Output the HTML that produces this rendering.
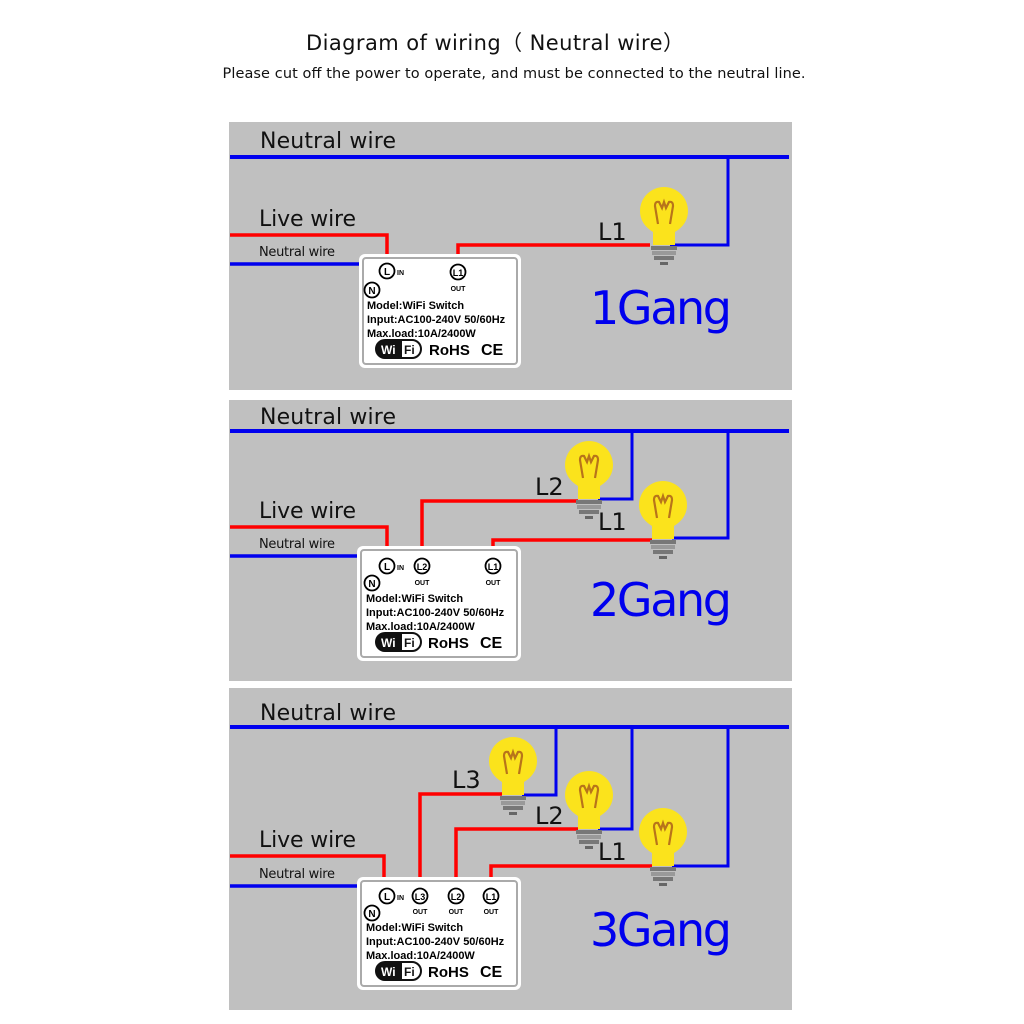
<!DOCTYPE html>
<html><head><meta charset="utf-8"><style>
body{margin:0;background:#fff;width:1024px;height:1024px;overflow:hidden}
svg{display:block}
text{font-family:"Liberation Sans",sans-serif}
.d{font-family:"DejaVu Sans",sans-serif}
</style></head><body>
<svg width="1024" height="1024" viewBox="0 0 1024 1024" xmlns="http://www.w3.org/2000/svg">
<defs>
<g id="bulb">
  <path d="M-11,-14 Q-24,-22 -24,-35 A24,24 0 1 1 24,-35 Q24,-22 11,-14 L11,-1 L-11,-1 Z" fill="#fbe31c"/>
  <path d="M-6,-22 L-9,-40 Q-9,-45 -5,-44 L-2,-38 L0,-44 L2,-38 L5,-44 Q9,-45 9,-40 L6,-22" fill="none" stroke="#b8741a" stroke-width="2.2"/>
  <rect x="-13" y="0" width="26" height="4" fill="#777"/>
  <rect x="-12" y="5" width="24" height="4" fill="#999"/>
  <rect x="-10" y="10" width="20" height="4" fill="#777"/>
  <rect x="-4" y="16" width="8" height="3" fill="#666"/>
</g>
<g id="term"><circle r="7.5" fill="#fff" stroke="#000" stroke-width="1.8"/></g>
</defs>
<text class="d" x="306" y="50" font-size="21" fill="#111" textLength="378">Diagram of wiring（ Neutral wire）</text>
<text class="d" x="514" y="78" font-size="14.5" text-anchor="middle" fill="#111" textLength="583">Please cut off the power to operate, and must be connected to the neutral line.</text>

<!-- Panel 1 -->
<rect x="229" y="122" width="563" height="268" fill="#c0c0c0"/>
<text class="d" x="260" y="148" font-size="22" fill="#111" textLength="136">Neutral wire</text>
<text class="d" x="259" y="226" font-size="22" fill="#111" textLength="97">Live wire</text>
<text class="d" x="259" y="256" font-size="13" fill="#111" textLength="76">Neutral wire</text>
<polyline points="230,157 789,157" stroke="#0000ee" stroke-width="4" fill="none"/>
<polyline points="728,157 728,245 670,245" stroke="#0000ee" stroke-width="3" fill="none"/>
<polyline points="230,235 387,235 387,264" stroke="#f00" stroke-width="3.5" fill="none"/>
<polyline points="230,264 368,264 368,283" stroke="#0000ee" stroke-width="3.5" fill="none"/>
<polyline points="458,264 458,245 650,245" stroke="#f00" stroke-width="3.5" fill="none"/>
<text class="d" x="598" y="240" font-size="24" fill="#111">L1</text>
<use href="#bulb" x="664" y="246"/>
<text class="d" x="590" y="324" font-size="46" fill="#0000ee" textLength="142">1Gang</text>
<g transform="translate(359,254)">
  <rect x="0" y="0" width="162" height="114" rx="6" fill="#fff"/>
  <rect x="4" y="4" width="154" height="106" rx="3" fill="none" stroke="#aaa" stroke-width="2"/>
</g>
<use href="#term" x="387" y="271"/><text x="387" y="275" font-size="10" font-weight="bold" text-anchor="middle">L</text><text x="397" y="275" font-size="7" font-weight="bold">IN</text>
<use href="#term" x="458" y="272"/><text x="458" y="276" font-size="9" font-weight="bold" text-anchor="middle">L1</text><text x="458" y="291" font-size="7" font-weight="bold" text-anchor="middle">OUT</text>
<use href="#term" x="372" y="290"/><text x="372" y="294" font-size="10" font-weight="bold" text-anchor="middle">N</text>
<text x="367" y="309" font-size="11" font-weight="bold">Model:WiFi Switch</text>
<text x="367" y="323" font-size="11" font-weight="bold">Input:AC100-240V 50/60Hz</text>
<text x="367" y="337" font-size="11" font-weight="bold">Max.load:10A/2400W</text>
<g transform="translate(376,340)"><rect x="0" y="0" width="45" height="18" rx="9" fill="#fff" stroke="#111" stroke-width="2"/><path d="M9,0 H26 V18 H9 A9,9 0 0 1 9,0Z" fill="#111"/><text x="5" y="14" font-size="12" font-weight="bold" fill="#fff">Wi</text><text x="28" y="14" font-size="12" font-weight="bold" fill="#111">Fi</text></g>
<text x="429" y="355" font-size="15" font-weight="bold">RoHS</text><text x="481" y="355" font-size="16" font-weight="bold">CE</text>

<!-- Panel 2 -->
<rect x="229" y="400" width="563" height="281" fill="#c0c0c0"/>
<text class="d" x="260" y="424" font-size="22" fill="#111" textLength="136">Neutral wire</text>
<text class="d" x="259" y="518" font-size="22" fill="#111" textLength="97">Live wire</text>
<text class="d" x="259" y="548" font-size="13" fill="#111" textLength="76">Neutral wire</text>
<polyline points="230,431 789,431" stroke="#0000ee" stroke-width="4" fill="none"/>
<polyline points="632,431 632,499 598,499" stroke="#0000ee" stroke-width="3" fill="none"/>
<polyline points="728,431 728,538 672,538" stroke="#0000ee" stroke-width="3" fill="none"/>
<polyline points="230,527 387,527 387,559" stroke="#f00" stroke-width="3.5" fill="none"/>
<polyline points="230,556 368,556 368,576" stroke="#0000ee" stroke-width="3.5" fill="none"/>
<polyline points="422,559 422,501 578,501" stroke="#f00" stroke-width="3.5" fill="none"/>
<polyline points="493,559 493,540 652,540" stroke="#f00" stroke-width="3.5" fill="none"/>
<text class="d" x="535" y="495" font-size="24" fill="#111">L2</text>
<text class="d" x="598" y="530" font-size="24" fill="#111">L1</text>
<use href="#bulb" x="589" y="500"/>
<use href="#bulb" x="663" y="540"/>
<text class="d" x="590" y="616" font-size="46" fill="#0000ee" textLength="142">2Gang</text>
<g transform="translate(357,546)">
  <rect x="0" y="0" width="164" height="115" rx="6" fill="#fff"/>
  <rect x="4" y="4" width="156" height="107" rx="3" fill="none" stroke="#aaa" stroke-width="2"/>
</g>
<use href="#term" x="387" y="566"/><text x="387" y="570" font-size="10" font-weight="bold" text-anchor="middle">L</text><text x="397" y="570" font-size="7" font-weight="bold">IN</text>
<use href="#term" x="422" y="566"/><text x="422" y="570" font-size="9" font-weight="bold" text-anchor="middle">L2</text><text x="422" y="585" font-size="7" font-weight="bold" text-anchor="middle">OUT</text>
<use href="#term" x="493" y="566"/><text x="493" y="570" font-size="9" font-weight="bold" text-anchor="middle">L1</text><text x="493" y="585" font-size="7" font-weight="bold" text-anchor="middle">OUT</text>
<use href="#term" x="372" y="583"/><text x="372" y="587" font-size="10" font-weight="bold" text-anchor="middle">N</text>
<text x="366" y="602" font-size="11" font-weight="bold">Model:WiFi Switch</text>
<text x="366" y="616" font-size="11" font-weight="bold">Input:AC100-240V 50/60Hz</text>
<text x="366" y="630" font-size="11" font-weight="bold">Max.load:10A/2400W</text>
<g transform="translate(376,633)"><rect x="0" y="0" width="45" height="18" rx="9" fill="#fff" stroke="#111" stroke-width="2"/><path d="M9,0 H26 V18 H9 A9,9 0 0 1 9,0Z" fill="#111"/><text x="5" y="14" font-size="12" font-weight="bold" fill="#fff">Wi</text><text x="28" y="14" font-size="12" font-weight="bold" fill="#111">Fi</text></g>
<text x="428" y="648" font-size="15" font-weight="bold">RoHS</text><text x="480" y="648" font-size="16" font-weight="bold">CE</text>

<!-- Panel 3 -->
<rect x="229" y="688" width="563" height="322" fill="#c0c0c0"/>
<text class="d" x="260" y="720" font-size="22" fill="#111" textLength="136">Neutral wire</text>
<text class="d" x="259" y="847" font-size="22" fill="#111" textLength="97">Live wire</text>
<text class="d" x="259" y="878" font-size="13" fill="#111" textLength="76">Neutral wire</text>
<polyline points="230,727 789,727" stroke="#0000ee" stroke-width="4" fill="none"/>
<polyline points="556,727 556,795 522,795" stroke="#0000ee" stroke-width="3" fill="none"/>
<polyline points="632,727 632,829 598,829" stroke="#0000ee" stroke-width="3" fill="none"/>
<polyline points="728,727 728,866 672,866" stroke="#0000ee" stroke-width="3" fill="none"/>
<polyline points="230,856 384,856 384,889" stroke="#f00" stroke-width="3.5" fill="none"/>
<polyline points="230,886 368,886 368,906" stroke="#0000ee" stroke-width="3.5" fill="none"/>
<polyline points="420,889 420,794 502,794" stroke="#f00" stroke-width="3.5" fill="none"/>
<polyline points="456,889 456,829 578,829" stroke="#f00" stroke-width="3.5" fill="none"/>
<polyline points="491,889 491,866 652,866" stroke="#f00" stroke-width="3.5" fill="none"/>
<text class="d" x="452" y="788" font-size="24" fill="#111">L3</text>
<text class="d" x="535" y="824" font-size="24" fill="#111">L2</text>
<text class="d" x="598" y="860" font-size="24" fill="#111">L1</text>
<use href="#bulb" x="513" y="796"/>
<use href="#bulb" x="589" y="830"/>
<use href="#bulb" x="663" y="867"/>
<text class="d" x="590" y="946" font-size="46" fill="#0000ee" textLength="142">3Gang</text>
<g transform="translate(357,877)">
  <rect x="0" y="0" width="164" height="113" rx="6" fill="#fff"/>
  <rect x="4" y="4" width="156" height="105" rx="3" fill="none" stroke="#aaa" stroke-width="2"/>
</g>
<use href="#term" x="387" y="896"/><text x="387" y="900" font-size="10" font-weight="bold" text-anchor="middle">L</text><text x="397" y="900" font-size="7" font-weight="bold">IN</text>
<use href="#term" x="420" y="896"/><text x="420" y="900" font-size="9" font-weight="bold" text-anchor="middle">L3</text><text x="420" y="914" font-size="7" font-weight="bold" text-anchor="middle">OUT</text>
<use href="#term" x="456" y="896"/><text x="456" y="900" font-size="9" font-weight="bold" text-anchor="middle">L2</text><text x="456" y="914" font-size="7" font-weight="bold" text-anchor="middle">OUT</text>
<use href="#term" x="491" y="896"/><text x="491" y="900" font-size="9" font-weight="bold" text-anchor="middle">L1</text><text x="491" y="914" font-size="7" font-weight="bold" text-anchor="middle">OUT</text>
<use href="#term" x="372" y="913"/><text x="372" y="917" font-size="10" font-weight="bold" text-anchor="middle">N</text>
<text x="366" y="931" font-size="11" font-weight="bold">Model:WiFi Switch</text>
<text x="366" y="945" font-size="11" font-weight="bold">Input:AC100-240V 50/60Hz</text>
<text x="366" y="959" font-size="11" font-weight="bold">Max.load:10A/2400W</text>
<g transform="translate(376,962)"><rect x="0" y="0" width="45" height="18" rx="9" fill="#fff" stroke="#111" stroke-width="2"/><path d="M9,0 H26 V18 H9 A9,9 0 0 1 9,0Z" fill="#111"/><text x="5" y="14" font-size="12" font-weight="bold" fill="#fff">Wi</text><text x="28" y="14" font-size="12" font-weight="bold" fill="#111">Fi</text></g>
<text x="428" y="977" font-size="15" font-weight="bold">RoHS</text><text x="480" y="977" font-size="16" font-weight="bold">CE</text>
</svg>
</body></html>
